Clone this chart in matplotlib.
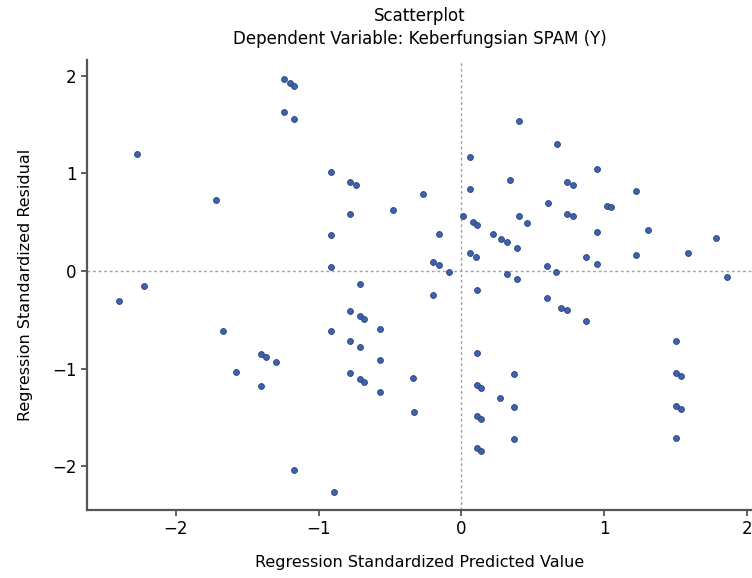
import matplotlib
matplotlib.use("Agg")
import matplotlib.pyplot as plt

pred = [-2.40, -2.27, -2.22, -1.72, -1.67, -1.58, -1.40, -1.37, -1.30, -1.40,
        -1.24, -1.20, -1.17, -1.24, -1.17,
        -0.91, -0.78, -0.74, -0.78, -0.48, -0.27, -0.91, -0.16, -0.91, -0.20, -0.16, -0.09,
        0.01, 0.06, 0.06, 0.08, 0.11, 0.06, 0.10,
        0.40, 0.67, 0.34, 0.95, 0.74, 0.78, 1.22, 0.61, 1.02, 1.05,
        0.40, 0.46, 0.74, 0.78, 0.95, 1.31, 1.78, 0.22, 0.28, 0.32, 0.39,
        0.87, 1.22, 1.59, 0.95, 0.60, 0.66, 0.32, 0.39, 1.86,
        0.11, 0.60, 0.70, 0.74, 0.87,
        0.11, 0.37, 0.11, 0.14, 0.27, 0.37, 0.11, 0.14, 0.37, 0.11, 0.14,
        1.50, 1.50, 1.54, 1.50, 1.54, 1.50,
        -0.71, -0.20, -0.78, -0.71, -0.68, -0.91, -0.57, -0.78, -0.71, -0.57,
        -0.78, -0.71, -0.68, -0.57, -0.34, -0.33, -1.17, -0.89]
resid = [-0.31, 1.20, -0.15, 0.73, -0.61, -1.03, -0.85, -0.88, -0.93, -1.18,
         1.97, 1.93, 1.90, 1.63, 1.56,
         1.02, 0.91, 0.88, 0.58, 0.63, 0.79, 0.37, 0.38, 0.04, 0.09, 0.06, -0.01,
         0.56, 1.17, 0.84, 0.50, 0.47, 0.18, 0.14,
         1.54, 1.30, 0.93, 1.05, 0.91, 0.88, 0.82, 0.70, 0.67, 0.66,
         0.56, 0.49, 0.58, 0.56, 0.40, 0.42, 0.34, 0.38, 0.33, 0.30, 0.24,
         0.14, 0.16, 0.18, 0.07, 0.05, -0.01, -0.03, -0.08, -0.06,
         -0.19, -0.28, -0.38, -0.40, -0.51,
         -0.84, -1.06, -1.17, -1.20, -1.30, -1.39, -1.49, -1.52, -1.72, -1.81, -1.85,
         -0.72, -1.05, -1.08, -1.38, -1.41, -1.71,
         -0.13, -0.25, -0.41, -0.46, -0.49, -0.61, -0.59, -0.72, -0.78, -0.91,
         -1.05, -1.11, -1.14, -1.24, -1.10, -1.45, -2.04, -2.27]

xticks = [-2, -1, 0, 1, 2]
yticks = [-2, -1, 0, 1, 2]

fig = plt.figure(figsize=(7.52, 5.78), dpi=100)
ax = fig.add_axes([0.116, 0.1176, 0.884, 0.778])

ax.axhline(0, color='#a0a0a0', linestyle=(0, (2, 2)), linewidth=1.0, zorder=1)
ax.axvline(0, color='#a0a0a0', linestyle=(0, (2, 2)), linewidth=1.0, zorder=1)
ax.scatter(pred, resid, s=18, color='#3D62B0', edgecolors='#2c4278', linewidths=0.6, zorder=3)

ax.set_xlim(-2.62, 2.035)
ax.set_ylim(-2.45, 2.16)
ax.set_xticks(xticks)
ax.set_yticks(yticks)
ax.set_xticklabels(['\u22122', '\u22121', '0', '1', '2'])
ax.set_yticklabels(['\u22122', '\u22121', '0', '1', '2'])
ax.tick_params(labelsize=12, length=4, width=1.2, color='#444444')

for s in ['top', 'right']:
    ax.spines[s].set_visible(False)
for s in ['left', 'bottom']:
    ax.spines[s].set_linewidth(1.6)
    ax.spines[s].set_color('#555555')

ax.set_xlabel('Regression Standardized Predicted Value', fontsize=11.5, labelpad=12)
ax.set_ylabel('Regression Standardized Residual', fontsize=11.5, labelpad=14)
ax.set_title('Scatterplot\nDependent Variable: Keberfungsian SPAM (Y)', fontsize=12,
             pad=12, linespacing=1.35)

fig.savefig('out.png', dpi=100)
